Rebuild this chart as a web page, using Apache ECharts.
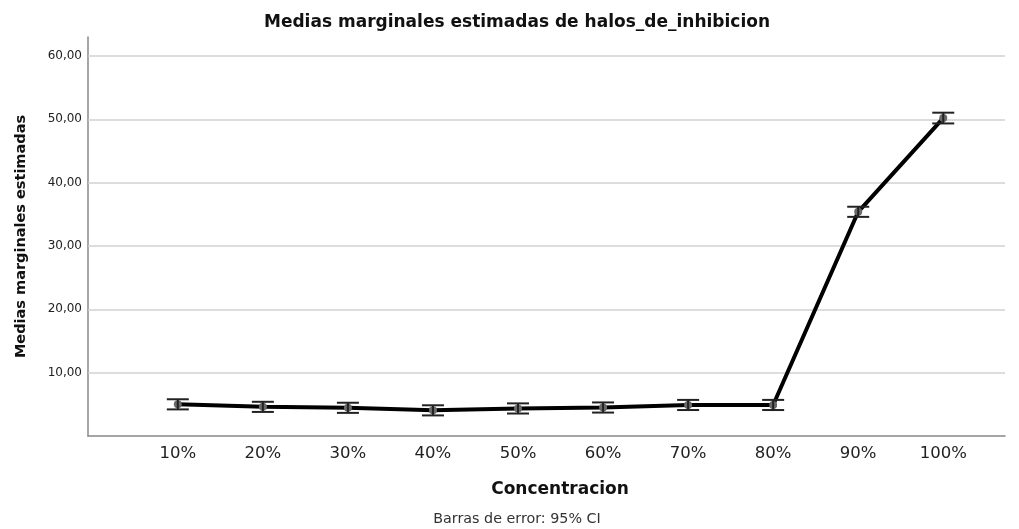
<!DOCTYPE html>
<html>
<head>
<meta charset="utf-8">
<script src="https://cdn.jsdelivr.net/npm/echarts@6/dist/echarts.min.js"></script>
<style>html,body{margin:0;padding:0;background:#fff}#c{width:1019px;height:529px}</style>
</head>
<body>
<div id="c"></div>
<script>
const categories = ['10%','20%','30%','40%','50%','60%','70%','80%','90%','100%'];
const means = [5.0, 4.6, 4.45, 4.05, 4.35, 4.5, 4.9, 4.9, 35.4, 50.2];
const lower = [4.2, 3.8, 3.65, 3.25, 3.55, 3.7, 4.1, 4.1, 34.6, 49.35];
const upper = [5.8, 5.4, 5.25, 4.85, 5.15, 5.3, 5.7, 5.7, 36.2, 51.05];
const yTicks = [10, 20, 30, 40, 50, 60];

const chart = echarts.init(document.getElementById('c'));
const font = '"DejaVu Sans", Verdana, sans-serif';
chart.setOption({
  animation: false,
  grid: { left: 88, top: 37, width: 917, height: 399, containLabel: false },
  xAxis: {
    type: 'value', min: -1.056, max: 9.726,
    axisLine: { show: true, onZero: false, lineStyle: { color: '#888', width: 1.5 } },
    axisTick: { show: false },
    splitLine: { show: false },
    axisLabel: {
      customValues: categories.map((c, i) => i),
      formatter: v => categories[Math.round(v)] || '',
      fontFamily: font, fontSize: 16.5, color: '#222', margin: 9
    }
  },
  yAxis: {
    type: 'value', min: 0, max: 63,
    name: 'Medias marginales estimadas', nameLocation: 'middle', nameGap: 59, nameRotate: 90,
    nameTextStyle: { fontFamily: font, fontSize: 14.5, fontWeight: 'bold', color: '#111' },
    axisLine: { show: true, onZero: false, lineStyle: { color: '#888', width: 1.5 } },
    axisTick: { show: false },
    splitLine: { show: false },
    axisLabel: {
      customValues: yTicks,
      formatter: v => v.toFixed(2).replace('.', ','),
      fontFamily: font, fontSize: 12, color: '#222', margin: 6
    }
  },
  graphic: [
    { type: 'text', x: 517, y: 23, style: { text: 'Medias marginales estimadas de halos_de_inhibicion', font: 'bold 17px ' + font, fill: '#111', textAlign: 'center', textVerticalAlign: 'middle' } },
    { type: 'text', x: 560, y: 490, style: { text: 'Concentracion', font: 'bold 17px ' + font, fill: '#111', textAlign: 'center', textVerticalAlign: 'middle' } },
    { type: 'text', x: 517, y: 519, style: { text: 'Barras de error: 95% CI', font: '14.3px ' + font, fill: '#333', textAlign: 'center', textVerticalAlign: 'middle' } }
  ],
  series: [
    {
      type: 'line',
      data: means.map((v, i) => [i, v]),
      lineStyle: { color: '#000', width: 4 },
      symbol: 'circle', symbolSize: 8,
      itemStyle: { color: '#6a6a6a', borderWidth: 0 },
      z: 3,
      markLine: {
        silent: true, symbol: 'none', label: { show: false },
        lineStyle: { color: '#d2d2d2', width: 1.5, type: 'solid' },
        data: yTicks.map(t => ({ yAxis: t })),
        z: 1
      }
    },
    {
      type: 'custom',
      z: 4,
      data: means.map((v, i) => [i, lower[i], upper[i]]),
      renderItem: function (params, api) {
        const x = api.value(0);
        const lo = api.coord([x, api.value(1)]);
        const hi = api.coord([x, api.value(2)]);
        const hw = 11;
        const st = { stroke: '#222', lineWidth: 2 };
        return {
          type: 'group',
          children: [
            { type: 'line', shape: { x1: lo[0], y1: lo[1], x2: hi[0], y2: hi[1] }, style: st },
            { type: 'line', shape: { x1: lo[0] - hw, y1: lo[1], x2: lo[0] + hw, y2: lo[1] }, style: st },
            { type: 'line', shape: { x1: hi[0] - hw, y1: hi[1], x2: hi[0] + hw, y2: hi[1] }, style: st }
          ]
        };
      }
    }
  ]
});
</script>
</body>
</html>
